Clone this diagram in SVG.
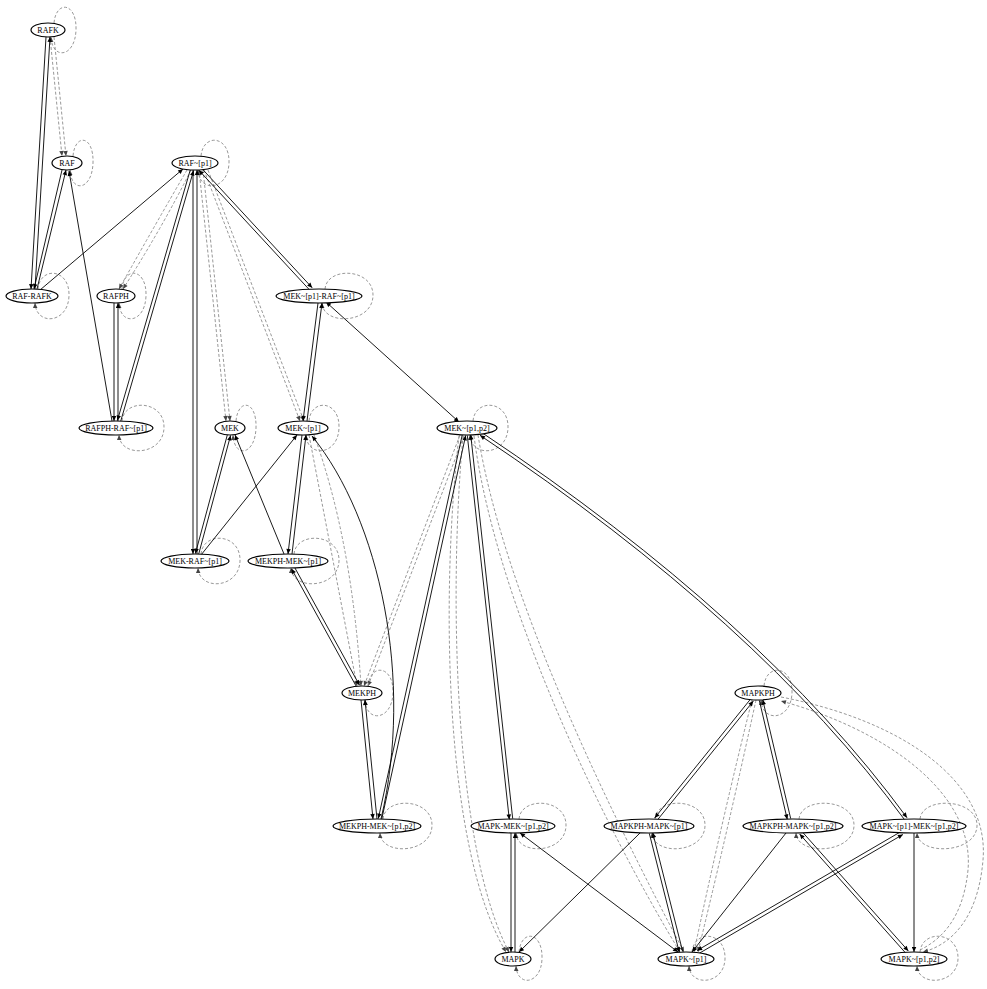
<svg xmlns="http://www.w3.org/2000/svg" width="987" height="989" viewBox="0 0 987 989">
<style>
.n ellipse{fill:#fff;stroke:#000;stroke-width:1.2}
.n text{font-family:"Liberation Serif","Times New Roman",serif;font-size:8px;text-anchor:middle;fill:#000}
.s{fill:none;stroke:#000;stroke-width:0.9;marker-end:url(#a)}
.b{marker-start:url(#a)}
.d{fill:none;stroke:#8c8c8c;stroke-width:0.9;stroke-dasharray:3 2;marker-end:url(#g)}
</style>
<defs>
<marker id="a" viewBox="0 0 10 10" refX="10" refY="5" markerWidth="6" markerHeight="5" orient="auto-start-reverse" markerUnits="userSpaceOnUse"><path d="M0,0.5 L10,5 L0,9.5 z" fill="#000"/></marker>
<marker id="g" viewBox="0 0 10 10" refX="10" refY="5" markerWidth="6" markerHeight="5" orient="auto" markerUnits="userSpaceOnUse"><path d="M0,0.5 L10,5 L0,9.5 z" fill="#444"/></marker>
</defs>
<rect width="987" height="989" fill="#fff"/>
<g id="connectors">
<!-- dashed influence edges -->
<path class="d" d="M50,37 L62,156"/>
<path class="d" d="M54,37 L66,156"/>
<path class="d" d="M187,170 Q155,225 119,289"/>
<path class="d" d="M191,170 Q162,228 123,289"/>
<path class="d" d="M199,170 L226,421"/>
<path class="d" d="M203,170 L230,421"/>
<path class="d" d="M204,170 L300,421"/>
<path class="d" d="M208,170 L304,421"/>
<path class="d" d="M309,435 L357,686"/>
<path class="d" d="M314,435 Q352,540 361,686"/>
<path class="d" d="M460,435 L364,686"/>
<path class="d" d="M464,436 L368,686"/>
<path class="d" d="M459,436 C440,600 445,850 506,952"/>
<path class="d" d="M463,436 C448,600 455,850 509,952"/>
<path class="d" d="M474,436 C495,600 600,820 680,952"/>
<path class="d" d="M478,435 C505,600 612,815 684,952"/>
<path class="d" d="M752,700 Q722,820 694,952"/>
<path class="d" d="M756,700 Q730,820 698,952"/>
<path class="d" d="M781,697 C900,720 990,780 983,860 C978,920 950,945 923,952"/>
<path class="d" d="M920,950 C940,940 963,920 968,870 C975,790 880,728 781,701"/>
<!-- self loops -->
<path class="d" d="M54,23 C56,0 77,2 76,30 C75,58 52,60 51,37"/>
<path class="d" d="M73,156 C75,133 94,135 93,163 C92,191 71,193 70,170"/>
<path class="d" d="M201,156 C203,133 230,135 229,163 C228,191 199,193 198,170"/>
<path class="d" d="M38,289 C40,266 70,268 69,296 C68,324 36,326 35,303"/>
<path class="d" d="M122,289 C124,266 147,268 146,296 C145,324 120,326 119,303"/>
<path class="d" d="M325,289 C327,266 374,268 373,296 C372,324 323,326 322,303"/>
<path class="d" d="M122,421 C124,398 165,400 164,428 C163,456 120,458 119,435"/>
<path class="d" d="M236,421 C238,398 257,400 256,428 C255,456 234,458 233,435"/>
<path class="d" d="M309,421 C311,398 340,400 339,428 C338,456 307,458 306,435"/>
<path class="d" d="M473,421 C475,398 509,400 508,428 C507,456 471,458 470,435"/>
<path class="d" d="M201,554 C203,531 241,533 240,561 C239,589 199,591 198,568"/>
<path class="d" d="M294,554 C296,531 340,533 339,561 C338,589 292,591 291,568"/>
<path class="d" d="M368,686 C370,663 394,665 393,693 C392,721 366,723 365,700"/>
<path class="d" d="M764,686 C766,663 793,665 792,693 C791,721 762,723 761,700"/>
<path class="d" d="M383,819 C385,796 433,798 432,826 C431,854 381,856 380,833"/>
<path class="d" d="M519,819 C521,796 567,798 566,826 C565,854 517,856 516,833"/>
<path class="d" d="M655,819 C657,796 706,798 705,826 C704,854 653,856 652,833"/>
<path class="d" d="M799,819 C801,796 855,798 854,826 C853,854 797,856 796,833"/>
<path class="d" d="M920,819 C922,796 978,798 977,826 C976,854 918,856 917,833"/>
<path class="d" d="M519,952 C521,929 543,931 542,959 C541,985 517,987 516,966"/>
<path class="d" d="M692,952 C694,929 726,931 725,959 C724,985 690,987 689,966"/>
<path class="d" d="M920,952 C922,929 959,931 958,959 C957,985 918,987 917,966"/>
<!-- solid reaction edges -->
<path class="s" d="M46,37 L31,289"/>
<path class="s" d="M35,289 L50,37"/>
<path class="s" d="M62,170 L34,289"/>
<path class="s" d="M37,289 L66,170"/>
<path class="s" d="M40,290 L183,169"/>
<path class="s" d="M114,303 L114,421"/>
<path class="s" d="M118,421 L118,303"/>
<path class="s" d="M190.4,169.5 L117.4,420.5"/>
<path class="s" d="M120.6,421.5 L193.6,170.5"/>
<path class="s" d="M112,421 L69,171"/>
<path class="s" d="M193,170 L193,554"/>
<path class="s" d="M197,554 L197,170"/>
<path class="s" d="M201.2,167.8 L312.2,287.8"/>
<path class="s" d="M309.8,290.2 L198.8,170.2"/>
<path class="s b" d="M326,302 L459,422"/>
<path class="s" d="M318,303 L303,421"/>
<path class="s" d="M307,421 L322,303"/>
<path class="s" d="M227.4,434.6 L195.4,553.6"/>
<path class="s" d="M198.6,554.4 L230.6,435.4"/>
<path class="s" d="M201,555 L297,435"/>
<path class="s" d="M284,554 L235,435"/>
<path class="s" d="M302,435 L288,554"/>
<path class="s" d="M292,554 L306,435"/>
<path class="s" d="M381,819 C414,680 380,520 312,436"/>
<path class="s" d="M294.5,567.2 L359.5,685.2"/>
<path class="s" d="M356.5,686.8 L291.5,568.8"/>
<path class="s" d="M361,700 L373,819"/>
<path class="s" d="M377,819 L365,700"/>
<path class="s" d="M462.3,434.6 L378.3,818.6"/>
<path class="s" d="M381.7,819.4 L465.7,435.4"/>
<path class="s" d="M467.3,435.4 L509.3,819.4"/>
<path class="s" d="M512.7,818.6 L470.7,434.6"/>
<path class="s" d="M482,432.7 Q761,618.7 907,817.7"/>
<path class="s" d="M905,820.3 Q759,621.3 480,435.3"/>
<path class="s" d="M511,833 L511,952"/>
<path class="s" d="M515,952 L515,833"/>
<path class="s b" d="M520,833 L678,952"/>
<path class="s" d="M640,833 L519,952"/>
<path class="s" d="M750.7,698.9 L654.7,817.9"/>
<path class="s" d="M657.3,820.1 L753.3,701.1"/>
<path class="s" d="M759.3,700.4 L787.3,819.4"/>
<path class="s" d="M790.7,818.6 L762.7,699.6"/>
<path class="s" d="M649.3,833.4 L679.3,952.4"/>
<path class="s" d="M682.7,951.6 L652.7,832.6"/>
<path class="s" d="M786,833 L692,952"/>
<path class="s" d="M802.3,831.9 L908.3,950.9"/>
<path class="s" d="M905.7,953.1 L799.7,834.1"/>
<path class="s" d="M698.9,953.5 L902.9,834.5"/>
<path class="s" d="M901.1,831.5 L697.1,950.5"/>
<path class="s" d="M914,833 L914,952"/>
</g>
<g id="RAFK" class="n"><ellipse cx="48" cy="30" rx="17" ry="7"/><text x="48" y="33">RAFK</text></g>
<g id="RAF" class="n"><ellipse cx="67" cy="163" rx="15" ry="7"/><text x="67" y="166">RAF</text></g>
<g id="RAF_p1" class="n"><ellipse cx="195" cy="163" rx="23" ry="7"/><text x="195" y="166">RAF~[p1]</text></g>
<g id="RAF-RAFK" class="n"><ellipse cx="32" cy="296" rx="26" ry="7"/><text x="32" y="299">RAF-RAFK</text></g>
<g id="RAFPH" class="n"><ellipse cx="116" cy="296" rx="19" ry="7"/><text x="116" y="299">RAFPH</text></g>
<g id="MEK_p1-RAF_p1" class="n"><ellipse cx="319" cy="296" rx="43" ry="7"/><text x="319" y="299">MEK~[p1]-RAF~[p1]</text></g>
<g id="RAFPH-RAF_p1" class="n"><ellipse cx="116" cy="428" rx="37" ry="7"/><text x="116" y="431">RAFPH-RAF~[p1]</text></g>
<g id="MEK" class="n"><ellipse cx="230" cy="428" rx="15" ry="7"/><text x="230" y="431">MEK</text></g>
<g id="MEK_p1" class="n"><ellipse cx="303" cy="428" rx="25" ry="7"/><text x="303" y="431">MEK~[p1]</text></g>
<g id="MEK_p1p2" class="n"><ellipse cx="467" cy="428" rx="30" ry="7"/><text x="467" y="431">MEK~[p1,p2]</text></g>
<g id="MEK-RAF_p1" class="n"><ellipse cx="195" cy="561" rx="34" ry="7"/><text x="195" y="564">MEK-RAF~[p1]</text></g>
<g id="MEKPH-MEK_p1" class="n"><ellipse cx="288" cy="561" rx="40" ry="7"/><text x="288" y="564">MEKPH-MEK~[p1]</text></g>
<g id="MEKPH" class="n"><ellipse cx="362" cy="693" rx="20" ry="7"/><text x="362" y="696">MEKPH</text></g>
<g id="MAPKPH" class="n"><ellipse cx="758" cy="693" rx="23" ry="7"/><text x="758" y="696">MAPKPH</text></g>
<g id="MEKPH-MEK_p1p2" class="n"><ellipse cx="377" cy="826" rx="44" ry="7"/><text x="377" y="829">MEKPH-MEK~[p1,p2]</text></g>
<g id="MAPK-MEK_p1p2" class="n"><ellipse cx="513" cy="826" rx="42" ry="7"/><text x="513" y="829">MAPK-MEK~[p1,p2]</text></g>
<g id="MAPKPH-MAPK_p1" class="n"><ellipse cx="649" cy="826" rx="45" ry="7"/><text x="649" y="829">MAPKPH-MAPK~[p1]</text></g>
<g id="MAPKPH-MAPK_p1p2" class="n"><ellipse cx="793" cy="826" rx="50" ry="7"/><text x="793" y="829">MAPKPH-MAPK~[p1,p2]</text></g>
<g id="MAPK_p1-MEK_p1p2" class="n"><ellipse cx="914" cy="826" rx="52" ry="7"/><text x="914" y="829">MAPK~[p1]-MEK~[p1,p2]</text></g>
<g id="MAPK" class="n"><ellipse cx="513" cy="959" rx="18" ry="7"/><text x="513" y="962">MAPK</text></g>
<g id="MAPK_p1" class="n"><ellipse cx="686" cy="959" rx="28" ry="7"/><text x="686" y="962">MAPK~[p1]</text></g>
<g id="MAPK_p1p2" class="n"><ellipse cx="914" cy="959" rx="33" ry="7"/><text x="914" y="962">MAPK~[p1,p2]</text></g>
</svg>
